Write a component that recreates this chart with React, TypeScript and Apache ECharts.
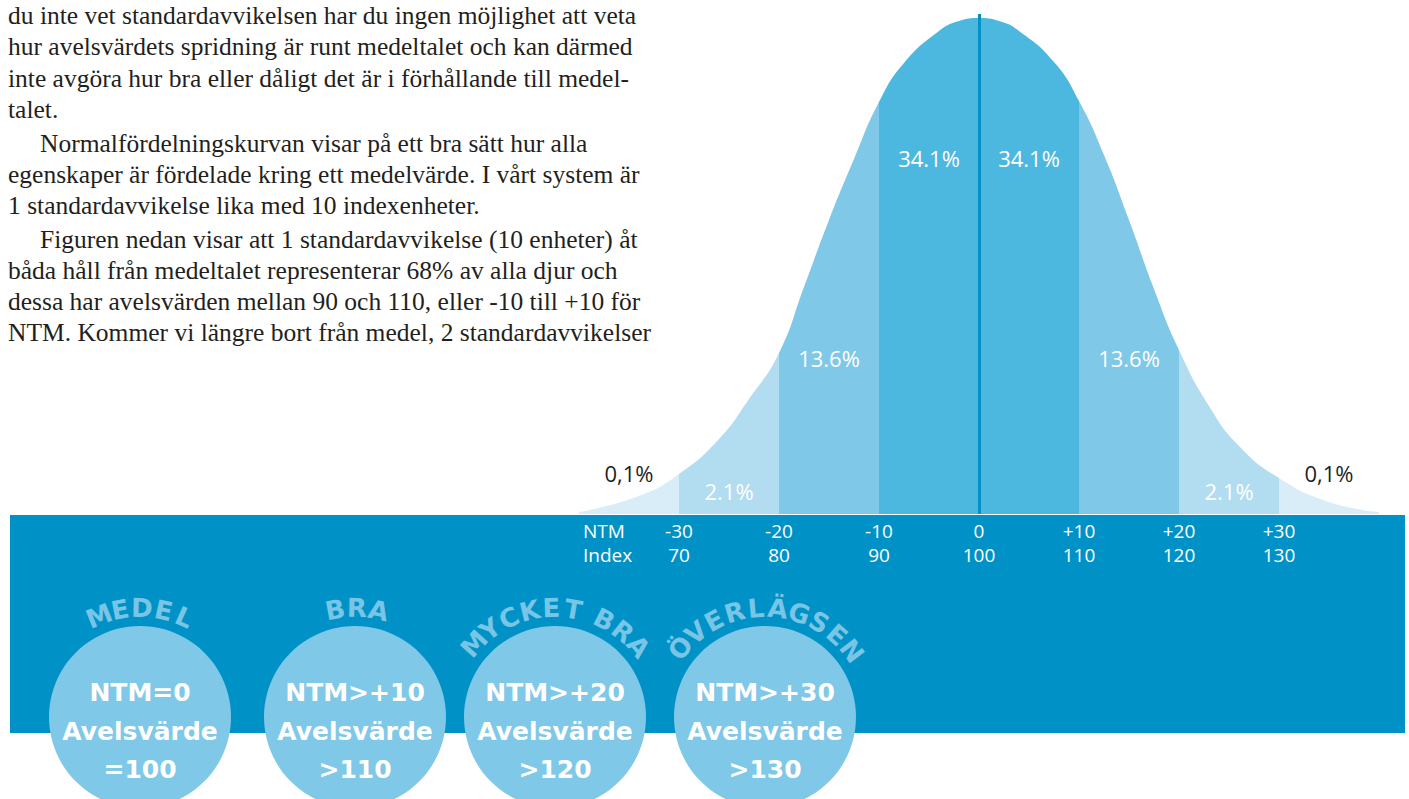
import React, { useEffect, useRef } from "react";
import * as echarts from "echarts";

// ---- data ----
const curveNtm = [-40, -34, -30, -26, -23, -20, -17.5, -15, -12.5, -10, -7.5, -4, -2, 0, 2, 4, 7.5, 10, 12.5, 15, 17.5, 20, 23, 26, 30, 35, 40];
const curveHeight = [2, 18, 40, 75, 115, 161, 227, 294, 355, 412, 451, 483, 493, 496, 493, 483, 452, 413, 359, 294, 225, 164, 108, 68, 36, 12, 2];

const bandEdges = [-40, -30, -20, -10, 0, 10, 20, 30, 40];
const bandShares = ["0,1%", "2.1%", "13.6%", "34.1%", "34.1%", "13.6%", "2.1%", "0,1%"];

const ntmTicks = [-30, -20, -10, 0, 10, 20, 30];
const ntmTickLabels = ["-30", "-20", "-10", "0", "+10", "+20", "+30"];
const indexTickLabels = ["70", "80", "90", "100", "110", "120", "130"];

const circleTitles = ["MEDEL", "BRA", "MYCKET BRA", "ÖVERLÄGSEN"];
const circleNtm = ["NTM=0", "NTM>+10", "NTM>+20", "NTM>+30"];
const circleAvel = ["=100", ">110", ">120", ">130"];

const paragraphLines = [
  "du inte vet standardavvikelsen har du ingen möjlighet att veta",
  "hur avelsvärdets spridning är runt medeltalet och kan därmed",
  "inte avgöra hur bra eller dåligt det är i förhållande till medel-",
  "talet.",
  "Normalfördelningskurvan visar på ett bra sätt hur alla",
  "egenskaper är fördelade kring ett medelvärde. I vårt system är",
  "1 standardavvikelse lika med 10 indexenheter.",
  "Figuren nedan visar att 1 standardavvikelse (10 enheter) åt",
  "båda håll från medeltalet representerar 68% av alla djur och",
  "dessa har avelsvärden mellan 90 och 110, eller -10 till +10 för",
  "NTM. Kommer vi längre bort från medel, 2 standardavvikelser",
];

// ---- styling / layout ----
const BAND_COLORS = ["#d9edf8", "#b2dcf0", "#80c8e7", "#4db8df", "#4db8df", "#80c8e7", "#b2dcf0", "#d9edf8"];
const BLUE = "#0092c6";
const LIGHT = "#80c8e7";
const paragraphBaselines = [24, 55, 87, 118, 152, 183, 214, 248, 279, 310, 341];
const indentedLines = [4, 7];
const bandLabelHeights = [41, 23, 156, 356, 356, 156, 23, 41];
const circleCenters = [140, 355, 555, 765];
const CIRCLE_Y = 717;
const CIRCLE_R = 91;

export default function App() {
  const ref = useRef<HTMLDivElement>(null);

  useEffect(() => {
    if (!ref.current) return;
    const chart = echarts.init(ref.current, null, { renderer: "svg" });

    const graphics: any[] = [];
    // paragraph
    paragraphLines.forEach((line, i) => {
      graphics.push({
        type: "text",
        x: indentedLines.includes(i) ? 40 : 8,
        y: paragraphBaselines[i] - 9,
        z: 5,
        style: {
          text: line,
          font: '25.5px "Liberation Serif"',
          fill: "#231f20",
          align: "left",
          verticalAlign: "middle",
        },
      });
    });
    // blue band
    graphics.push({
      type: "rect",
      z: 0,
      shape: { x: 10, y: 515, width: 1395, height: 218 },
      style: { fill: BLUE },
    });
    // NTM / Index row headers
    graphics.push({
      type: "text", x: 583, y: 531, z: 5,
      style: { text: "NTM", font: '19px "Open Sans"', fill: "#ffffff", align: "left", verticalAlign: "middle" },
    });
    graphics.push({
      type: "text", x: 583, y: 555, z: 5,
      style: { text: "Index", font: '19px "Open Sans"', fill: "#ffffff", align: "left", verticalAlign: "middle" },
    });
    // circles
    circleTitles.forEach((title, ci) => {
      const cx = circleCenters[ci];
      graphics.push({
        type: "circle", z: 10,
        shape: { cx, cy: CIRCLE_Y, r: CIRCLE_R },
        style: { fill: LIGHT },
      });
      const lines = [circleNtm[ci], "Avelsvärde", circleAvel[ci]];
      const ys = [692, 731, 769];
      lines.forEach((t, li) => {
        graphics.push({
          type: "text", x: cx, y: ys[li], z: 11,
          style: { text: t, font: 'bold 25px "DejaVu Sans"', fill: "#ffffff", align: "center", verticalAlign: "middle" },
        });
      });
      // letters placed along an arc above the circle
      const chars = title.split("");
      const stepDeg = 11.5;
      const weights = chars.map((c) => (c === " " ? 0.5 : 1));
      const pos: number[] = [];
      let acc = 0;
      chars.forEach((_, k) => {
        if (k > 0) acc += (weights[k - 1] + weights[k]) / 2;
        pos.push(acc);
      });
      const total = acc;
      const R = 109;
      chars.forEach((ch, k) => {
        if (ch === " ") return;
        const th = (((pos[k] - total / 2) * stepDeg + 1) * Math.PI) / 180;
        graphics.push({
          type: "text",
          x: cx + R * Math.sin(th),
          y: CIRCLE_Y - R * Math.cos(th),
          rotation: -th,
          z: 11,
          style: { text: ch, font: 'bold 26px "DejaVu Sans"', fill: "#79c5e6", align: "center", verticalAlign: "middle" },
        });
      });
    });

    const mids = bandShares.map((_, i) => (bandEdges[i] + bandEdges[i + 1]) / 2);

    const pieces = bandShares.map((_, i) => {
      const p: any = { color: BAND_COLORS[i] };
      if (i > 0) p.gte = bandEdges[i];
      if (i < bandShares.length - 1) p.lt = bandEdges[i + 1];
      return p;
    });

    const option: any = {
      animation: false,
      grid: { left: 579, right: 30, top: 14, bottom: 285, outerBoundsMode: "none", containLabel: false },
      xAxis: {
        type: "value",
        min: -40,
        max: 40,
        interval: 10,
        z: 10,
        axisLine: { show: false },
        axisTick: { show: false },
        splitLine: { show: false },
        axisLabel: {
          color: "#ffffff",
          fontFamily: "Open Sans",
          fontSize: 19,
          lineHeight: 24,
          margin: 5,
          formatter: (v: number) => {
            const i = ntmTicks.indexOf(v);
            return i < 0 ? "" : ntmTickLabels[i] + "\n" + indexTickLabels[i];
          },
        },
      },
      yAxis: { type: "value", min: 0, max: 500, show: false },
      visualMap: {
        show: false,
        type: "piecewise",
        dimension: 0,
        seriesIndex: 0,
        pieces,
      },
      series: [
        {
          type: "line",
          smooth: 0.5,
          showSymbol: false,
          symbol: "none",
          data: curveNtm.map((x, i) => [x, curveHeight[i]]),
          lineStyle: { width: 0, opacity: 0 },
          areaStyle: { opacity: 1 },
          markLine: {
            silent: true,
            symbol: ["none", "none"],
            label: { show: false },
            lineStyle: { color: BLUE, width: 3, type: "solid" },
            data: [{ xAxis: 0 }],
          },
          markPoint: {
            silent: true,
            symbol: "circle",
            symbolSize: 1,
            itemStyle: { color: "rgba(0,0,0,0)" },
            label: {
              show: true,
              position: "inside",
              fontFamily: "Open Sans",
              fontSize: 22,
              formatter: (p: any) => p.name,
            },
            data: bandShares.map((s, i) => ({
              name: s,
              coord: [mids[i], bandLabelHeights[i]],
              label: { color: i === 0 || i === bandShares.length - 1 ? "#1e1e1e" : "#ffffff" },
            })),
          },
        },
      ],
      graphic: { elements: graphics },
    };

    chart.setOption(option);
    return () => chart.dispose();
  }, []);

  return (
    <div
      ref={ref}
      style={{ position: "fixed", left: 0, top: 0, width: 1409, height: 799, background: "#ffffff" }}
    />
  );
}
